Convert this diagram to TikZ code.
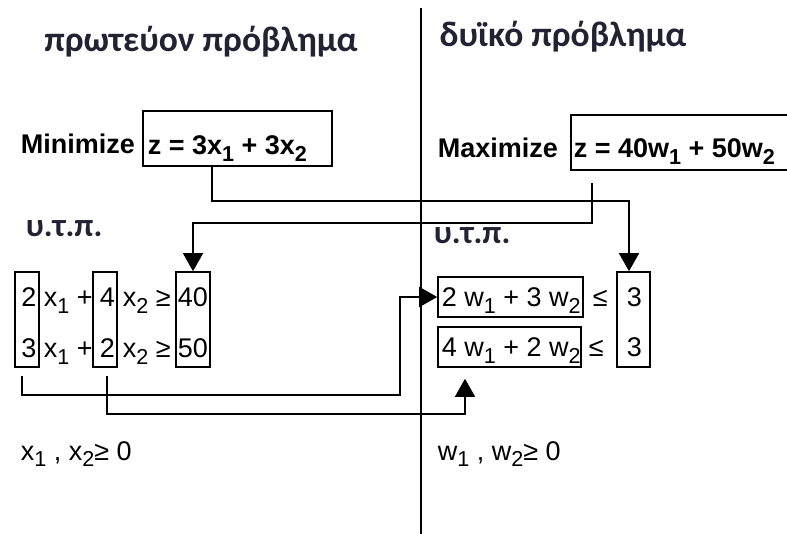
\documentclass[tikz,border=0pt]{standalone}
\usepackage{fontspec}
\setmainfont{Liberation Sans}
\newfontfamily\grk{Carlito}
\usetikzlibrary{arrows.meta}
\newcommand{\lo}[1]{\raisebox{-0.45ex}{\scalebox{0.8}{#1}}}
\definecolor{ink}{RGB}{34,34,51}
\begin{document}
\begin{tikzpicture}[x=1pt,y=-1pt, line width=1.6pt,
  box/.style={draw, inner sep=0pt},
  txt/.style={inner sep=0pt, anchor=base west, font=\fontsize{27}{30}\selectfont},
  btxt/.style={inner sep=0pt, anchor=base west, font=\fontsize{27}{30}\selectfont\bfseries},
  small/.style={inner sep=0pt, anchor=base west, font=\fontsize{27}{30}\selectfont},
  ttl/.style={inner sep=0pt, anchor=base, text=ink, font=\grk\bfseries\fontsize{35.5}{40}\selectfont},
  stp/.style={inner sep=0pt, anchor=base west, text=ink, font=\grk\bfseries\fontsize{33}{36}\selectfont},
  arr/.style={-{Triangle[width=20pt,length=18pt]}}]
\useasboundingbox (0,0) rectangle (787,534);
\fill[white] (0,0) rectangle (787,534);

% titles and divider
\node[ttl] (t1) at (201,52) {πρωτεύον πρόβλημα};
\node[ttl] (t2) at (563,47) {δυϊκό πρόβλημα};
\coordinate (dtop) at (421,8);
\coordinate (dbot) at (421,534);
\draw (dtop) -- (dbot);

% objectives
\node[btxt] (minl) at (20,154) {Minimize};
\node[box, minimum width=189pt, minimum height=55pt] (zmin) at (237.5,138.5) {};
\node[btxt] (zmint) at (147,155) {z = 3x\lo{1} + 3x\lo{2}};
\node[btxt] (maxl) at (437,158) {Maximize};
\node[box, minimum width=219pt, minimum height=55pt] (zmax) at (680.5,142.5) {};
\node[btxt] (zmaxt) at (573,158) {z = 40w\lo{1} + 50w\lo{2}};

% s.t.
\node[stp] (st1) at (25,237) {υ.τ.π.};
\node[stp] (st2) at (433,244) {υ.τ.π.};

% primal constraints
\node[box, minimum width=24pt, minimum height=95pt] (cA) at (27,319.5) {};
\node[box, minimum width=24pt, minimum height=95pt] (cB) at (105,319.5) {};
\node[box, minimum width=34pt, minimum height=95pt] (cR) at (193,319.5) {};
\node[txt] (a1) at (20.5,307) {2};
\node[txt] (p1) at (43,307) {x\lo{1} +};
\node[txt] (b1) at (99,307) {4};
\node[txt] (q1) at (122,307) {x\lo{2} ≥};
\node[txt] (r1) at (177,307) {40};
\node[txt] (a2) at (20.5,358) {3};
\node[txt] (p2) at (43,358) {x\lo{1} +};
\node[txt] (b2) at (99,358) {2};
\node[txt] (q2) at (122,358) {x\lo{2} ≥};
\node[txt] (r2) at (177,358) {50};

% dual constraints
\node[box, minimum width=145pt, minimum height=40pt] (e1) at (510.5,297) {};
\node[box, minimum width=143pt, minimum height=40pt] (e2) at (509.5,347) {};
\node[box, minimum width=33pt, minimum height=95pt] (c3) at (633.5,319.5) {};
\node[txt] (e1t) at (441,307) {2 w\lo{1} + 3 w\lo{2}};
\node[txt] (le1) at (592,307) {≤};
\node[txt] (k1) at (626,307) {3};
\node[txt] (e2t) at (441,357) {4 w\lo{1} + 2 w\lo{2}};
\node[txt] (le2) at (588,357) {≤};
\node[txt] (k2) at (626,357) {3};

% sign constraints
\node[small] (nn1) at (20,460) {x\lo{1} , x\lo{2}≥ 0};
\node[small] (nn2) at (437,460) {w\lo{1} , w\lo{2}≥ 0};

% connectors
\draw[arr] ([xshift=-25.5pt]zmin.south) -- ++(0,34) -| ([xshift=-4.5pt]c3.north);
\draw[arr] ([xshift=-88.5pt,yshift=-12pt]zmax.south) -- ++(0,40) -| (cR.north);
\draw[arr] ([xshift=-5pt,yshift=-8pt]cA.south) -- ++(0,19) -| ([xshift=-37pt]e1.west) -- (e1.west);
\draw[arr] ([xshift=2pt,yshift=-8pt]cB.south) -- ++(0,38) -| ([xshift=-44.5pt,yshift=-11pt]e2.south);
\end{tikzpicture}
\end{document}
